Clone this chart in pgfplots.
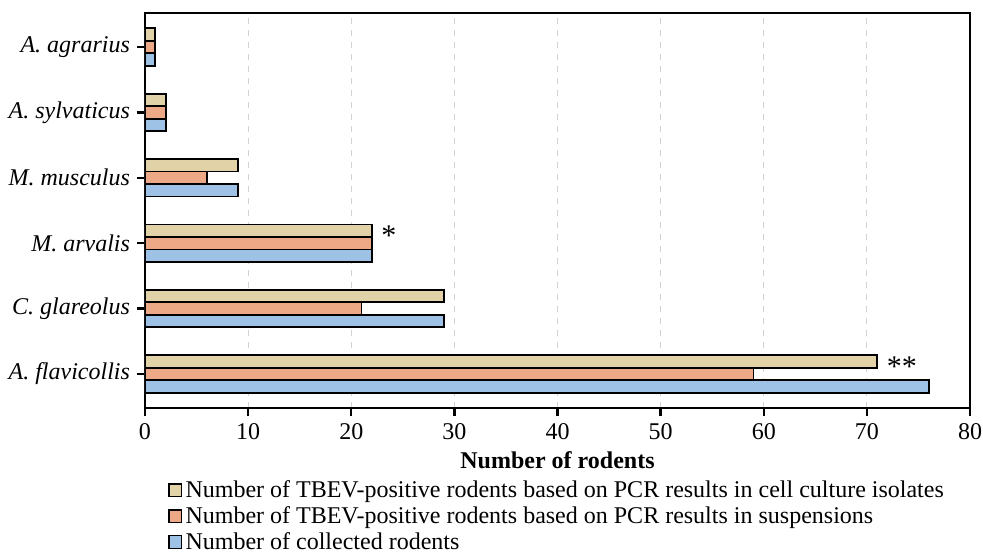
\documentclass[border=0pt]{standalone}
\usepackage{fontspec}
\setmainfont{Liberation Serif}
\usepackage{pgfplots}
\pgfplotsset{compat=1.18}
\usepackage{pgfplotstable}
\definecolor{cbeige}{HTML}{E1D3A7}
\definecolor{corange}{HTML}{EDA985}
\definecolor{cblue}{HTML}{9DC2E5}
\pgfplotstableread{
y v
0 76
1 29
2 22
3 9
4 2
5 1
}\collected
\pgfplotstableread{
y v
0 59
1 21
2 22
3 6
4 2
5 1
}\suspension
\pgfplotstableread{
y v m
0 71 {**}
1 29 {}
2 22 {*}
3 9 {}
4 2 {}
5 1 {}
}\culture
\begin{document}
\begin{tikzpicture}[font=\fontsize{12}{14}\selectfont]
\path[use as bounding box] (-72.5pt,-74pt) rectangle (419pt,204pt);
\begin{axis}[
  at={(0,0)}, anchor=south west,
  scale only axis,
  width=412.5pt, height=197.5pt,
  xmin=0, xmax=80, xtick distance=10,
  ymin=-0.52, ymax=5.52,
  ytick={0,1,2,3,4,5},
  yticklabels={\textit{A. flavicollis},\textit{C. glareolus},\textit{M. arvalis},\textit{M. musculus},\textit{A. sylvaticus},\textit{A. agrarius}},
  /pgf/number format/assume math mode=true,
  axis line style={line width=1.4pt},
  tick style={line width=1.2pt, black},
  tick align=outside,
  major tick length=4pt,
  xtick pos=bottom, ytick pos=left,
  xmajorgrids,
  major grid style={dashed, line width=0.4pt, gray!35},
  xbar, bar width=0.19,
  xlabel={\textbf{Number of rodents}},
  xlabel style={at={(axis description cs:0.5,-0.1316)}, anchor=center},
  legend style={draw=none, at={(0.028,-0.175)}, anchor=north west, inner sep=0pt,
    legend cell align=left, row sep=0pt, nodes={inner sep=1.5pt}},
  legend image code/.code={\draw[#1, line width=0.6pt] (0pt,-3.2pt) rectangle (6.4pt,3.2pt);},
  reverse legend,
]
\addplot[fill=cblue, draw=black, line width=0.9pt, bar shift=-0.19] table[x=v, y=y] {\collected};
\addlegendentry{Number of collected rodents}
\addplot[fill=corange, draw=black, line width=0.9pt, bar shift=0] table[x=v, y=y] {\suspension};
\addlegendentry{Number of TBEV-positive rodents based on PCR results in suspensions}
\addplot[fill=cbeige, draw=black, line width=0.9pt, bar shift=0.19,
  nodes near coords, point meta=explicit symbolic,
  every node near coord/.append style={anchor=west, xshift=1pt, yshift=-2.5pt, text=black, font=\fontsize{15}{15}\selectfont}]
  table[x=v, y=y, meta=m] {\culture};
\addlegendentry{Number of TBEV-positive rodents based on PCR results in cell culture isolates}
\end{axis}
\end{tikzpicture}
\end{document}
